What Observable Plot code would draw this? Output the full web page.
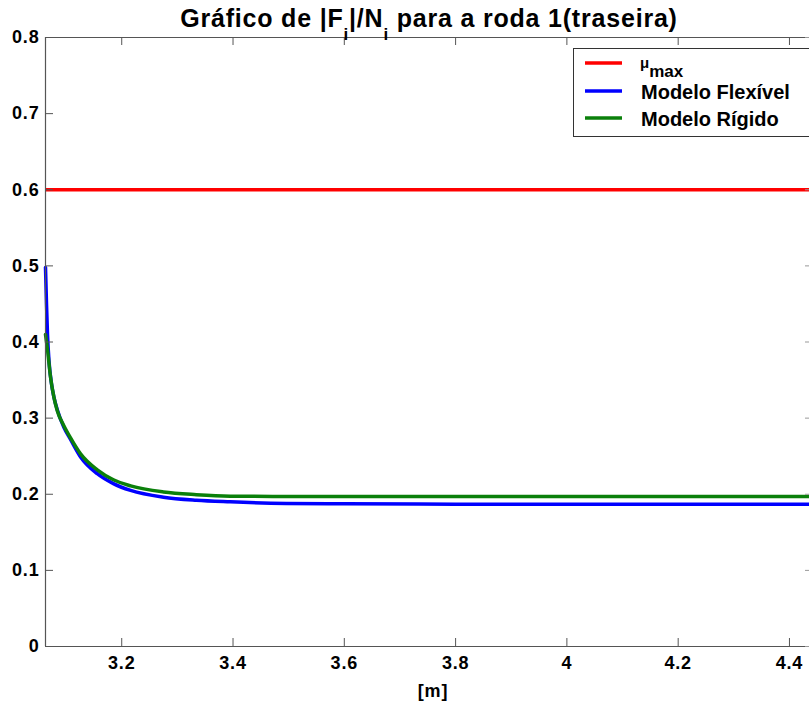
<!DOCTYPE html>
<html>
<head>
<meta charset="utf-8">
<script src="https://cdn.jsdelivr.net/npm/d3@7"></script>
<script src="https://cdn.jsdelivr.net/npm/@observablehq/plot@0.6"></script>
<style>
  html, body { margin: 0; padding: 0; background: #fff; overflow: hidden; }
  #chart { position: relative; width: 809px; height: 704px; }
</style>
</head>
<body>
<div id="chart"></div>
<script>
// ---- data ----
const xTicks = [3.2, 3.4, 3.6, 3.8, 4, 4.2, 4.4];
const xTickLabels = ["3.2", "3.4", "3.6", "3.8", "4", "4.2", "4.4"];
const yTicks = [0, 0.1, 0.2, 0.3, 0.4, 0.5, 0.6, 0.7, 0.8];
const yTickLabels = ["0", "0.1", "0.2", "0.3", "0.4", "0.5", "0.6", "0.7", "0.8"];
const xDomain = [3.063, 4.436];
const yDomain = [0, 0.8];
const muMax = 0.6;

const flexX = [3.063, 3.0648, 3.0666, 3.0693, 3.0738, 3.078, 3.0846, 3.096, 3.108, 3.126, 3.156, 3.185, 3.216, 3.275, 3.334, 3.395, 3.496, 3.6, 3.8, 4.0, 4.2, 4.436];
const flexY = [0.498, 0.45, 0.41, 0.375, 0.345, 0.328, 0.310, 0.288, 0.272, 0.249, 0.227, 0.214, 0.205, 0.196, 0.192, 0.190, 0.188, 0.1875, 0.187, 0.187, 0.187, 0.187];

const rigidX = [3.063, 3.0666, 3.072, 3.078, 3.084, 3.096, 3.108, 3.126, 3.156, 3.185, 3.216, 3.275, 3.334, 3.395, 3.5, 3.6, 3.8, 4.0, 4.2, 4.436];
const rigidY = [0.41, 0.39, 0.354, 0.328, 0.310, 0.290, 0.274, 0.253, 0.232, 0.219, 0.211, 0.203, 0.1995, 0.1975, 0.197, 0.197, 0.197, 0.197, 0.197, 0.197];

const seriesNames = ["\u03bc", "Modelo Flexível", "Modelo Rígido"];
const seriesColors = ["#ff0000", "#0000ff", "#0b800b"];

// ---- build ----
const flex = flexX.map((x, i) => ({x, y: flexY[i]}));
const rigid = rigidX.map((x, i) => ({x, y: rigidY[i]}));
const tickLenY = 8 / 609 * (yDomain[1] - yDomain[0]);
const tickLenX = 8 / 764 * (xDomain[1] - xDomain[0]);
const axisColor = "#555";

const plot = Plot.plot({
  width: 809,
  height: 704,
  marginLeft: 45,
  marginRight: 0,
  marginTop: 37,
  marginBottom: 58,
  x: {domain: xDomain, label: null},
  y: {domain: yDomain, label: null},
  style: {fontFamily: "'Liberation Sans', Arial, sans-serif", fontWeight: "bold", fontSize: "18px", color: "#000", background: "#fff", overflow: "visible"},
  marks: [
    Plot.ruleY([muMax], {stroke: seriesColors[0], strokeWidth: 3.5}),
    Plot.line(flex, {x: "x", y: "y", stroke: seriesColors[1], strokeWidth: 3.5, curve: "monotone-x"}),
    Plot.line(rigid, {x: "x", y: "y", stroke: seriesColors[2], strokeWidth: 3.5, curve: "monotone-x"}),
    // frame
    Plot.ruleY([yDomain[0]], {stroke: axisColor, strokeWidth: 1.2}),
    Plot.ruleY([yDomain[1]], {stroke: axisColor, strokeWidth: 1.2}),
    Plot.ruleX([xDomain[0]], {stroke: axisColor, strokeWidth: 1.2}),
    // inward ticks
    Plot.ruleX(xTicks, {y1: yDomain[0], y2: yDomain[0] + tickLenY, stroke: axisColor}),
    Plot.ruleX(xTicks, {y1: yDomain[1] - tickLenY, y2: yDomain[1], stroke: axisColor}),
    Plot.ruleY(yTicks, {x1: xDomain[0], x2: xDomain[0] + tickLenX, stroke: axisColor}),
    Plot.ruleY(yTicks, {x1: xDomain[1] - tickLenX / 2, x2: xDomain[1], stroke: "#999"}),
    Plot.axisX(xTicks, {tickSize: 0, tickPadding: 10, tickFormat: d => xTickLabels[xTicks.indexOf(d)], fontSize: 18, fontWeight: "bold", fill: "#000"}),
    Plot.axisY(yTicks, {tickSize: 0, tickPadding: 6, tickFormat: d => yTickLabels[yTicks.indexOf(d)], fontSize: 18, fontWeight: "bold", fill: "#000"})
  ]
});

document.getElementById("chart").appendChild(plot);

// ---- annotations: title, x label, legend ----
const svg = d3.select(plot);
svg.selectAll("g[aria-label='x-axis tick label'] text, g[aria-label='y-axis tick label'] text").style("letter-spacing", "0.8px");

const font = "'Liberation Sans', Arial, sans-serif";
const title = svg.append("text")
  .attr("x", 429).attr("y", 27)
  .attr("text-anchor", "middle")
  .style("font-family", font).style("font-weight", "bold").style("font-size", "25px")
  .style("letter-spacing", "0.8px").attr("fill", "#000");
title.append("tspan").text("Gráfico de |F");
title.append("tspan").attr("dy", 13).style("font-size", "17px").text("i");
title.append("tspan").attr("dy", -13).text("|/N");
title.append("tspan").attr("dy", 13).style("font-size", "17px").text("i");
title.append("tspan").attr("dy", -13).text(" para a roda 1(traseira)");

svg.append("text")
  .attr("x", 433).attr("y", 697).attr("text-anchor", "middle")
  .style("font-family", font).style("font-weight", "bold").style("font-size", "18px")
  .style("letter-spacing", "0.8px").attr("fill", "#000").text("[m]");

const lg = svg.append("g").attr("text-anchor", "start");
lg.append("rect").attr("x", 573.5).attr("y", 48.5).attr("width", 260).attr("height", 88)
  .attr("fill", "#fff").attr("stroke", "#333").attr("stroke-width", 1);
const rowY = [63, 91, 118];
rowY.forEach((y, i) => {
  lg.append("line").attr("x1", 585).attr("x2", 622).attr("y1", y).attr("y2", y)
    .attr("stroke", seriesColors[i]).attr("stroke-width", 3.5);
});
const mu = lg.append("text").attr("x", 640).attr("y", 68).attr("text-anchor", "start")
  .style("font-family", font).style("font-weight", "bold").attr("fill", "#000");
mu.append("tspan").style("font-size", "15px").text(seriesNames[0]);
mu.append("tspan").attr("dy", 9).style("font-size", "17px").text("max");
[[seriesNames[1], 99], [seriesNames[2], 126]].forEach(([t, y]) => {
  lg.append("text").attr("x", 641).attr("y", y).attr("text-anchor", "start")
    .style("font-family", font).style("font-weight", "bold").style("font-size", "20px")
    .attr("fill", "#000").text(t);
});
</script>
</body>
</html>
